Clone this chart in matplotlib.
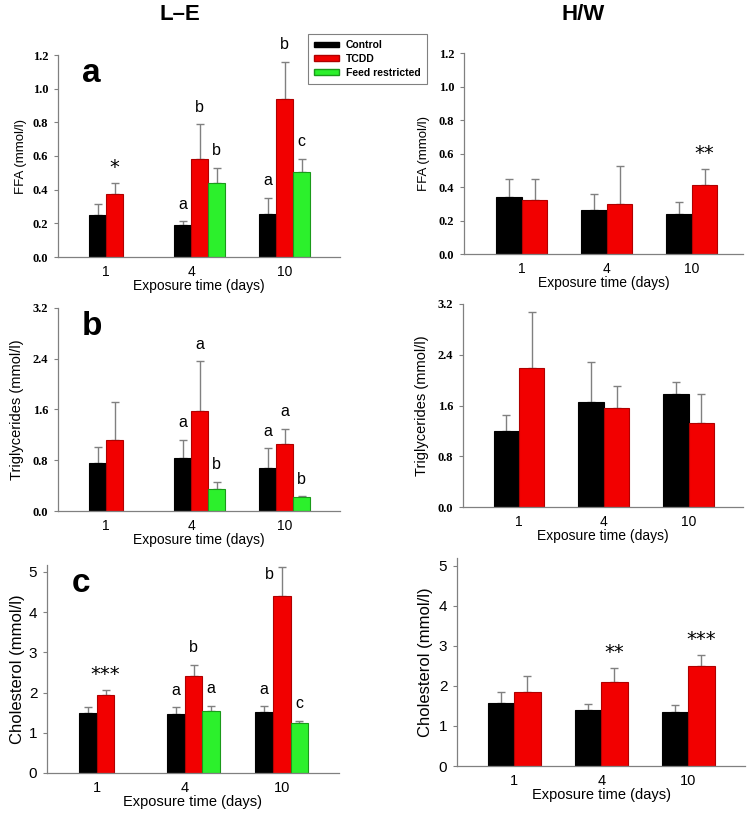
import numpy as np
import matplotlib
matplotlib.use('Agg')
import matplotlib.pyplot as plt
from matplotlib.patches import Patch

days = ['1', '4', '10']
series_names = ['Control', 'TCDD', 'Feed restricted']

# L-E rats (three groups), H/W rats (two groups); NaN = not measured
ffa_le_mean = [[0.248, 0.188, 0.258], [0.377, 0.581, 0.939], [np.nan, 0.437, 0.506]]
ffa_le_se = [[0.069, 0.024, 0.093], [0.063, 0.209, 0.220], [np.nan, 0.093, 0.079]]
ffa_hw_mean = [[0.340, 0.264, 0.238], [0.324, 0.300, 0.414]]
ffa_hw_se = [[0.108, 0.096, 0.072], [0.124, 0.224, 0.094]]

tg_le_mean = [[0.758, 0.832, 0.674], [1.126, 1.579, 1.053], [np.nan, 0.347, 0.221]]
tg_le_se = [[0.258, 0.289, 0.315], [0.590, 0.779, 0.242], [np.nan, 0.116, 0.011]]
tg_hw_mean = [[1.200, 1.663, 1.789], [2.184, 1.558, 1.326]]
tg_hw_se = [[0.247, 0.616, 0.174], [0.884, 0.347, 0.463]]

chol_le_mean = [[1.480, 1.465, 1.515], [1.950, 2.400, 4.396], [np.nan, 1.530, 1.250]]
chol_le_se = [[0.160, 0.175, 0.141], [0.120, 0.290, 0.734], [np.nan, 0.140, 0.050]]
chol_hw_mean = [[1.583, 1.408, 1.350], [1.858, 2.090, 2.483]]
chol_hw_se = [[0.275, 0.132, 0.160], [0.392, 0.350, 0.297]]

# significance marks: (series index, day index, text)
ffa_le_marks = [(1, 0, '*'), (0, 1, 'a'), (1, 1, 'b'), (2, 1, 'b'),
                (0, 2, 'a'), (1, 2, 'b'), (2, 2, 'c')]
ffa_hw_marks = [(1, 2, '**')]
tg_le_marks = [(0, 1, 'a'), (1, 1, 'a'), (2, 1, 'b'),
               (0, 2, 'a'), (1, 2, 'a'), (2, 2, 'b')]
tg_hw_marks = []
chol_le_marks = [(1, 0, '***'), (0, 1, 'a'), (1, 1, 'b'), (2, 1, 'a'),
                 (0, 2, 'a'), (1, 2, 'b'), (2, 2, 'c')]
chol_hw_marks = [(1, 1, '**'), (1, 2, '***')]

colors = ['#000000', '#f20000', '#2cf02c']
edges = ['#000000', '#b00000', '#1a9a1a']
W, H = 750, 814

fig = plt.figure(figsize=(W / 100, H / 100), dpi=100)


def px_axes(x0, x1, ytop, ybot):
    return fig.add_axes([x0 / W, 1 - ybot / H, (x1 - x0) / W, (ybot - ytop) / H])


def panel(ax, means, ses, marks, width, xlim, ylim, yticks, ylabels, ylabel,
          big, label_x, ticks_x, ylabel_size, special=None):
    x = np.arange(len(days))
    offs = [-width / 2, width / 2, 3 * width / 2]
    tops = {}
    for i, (m, s) in enumerate(zip(means, ses)):
        m = np.array(m, dtype=float)
        s = np.array(s, dtype=float)
        ax.bar(x + offs[i], m, width, color=colors[i], edgecolor=edges[i],
               linewidth=0.8, zorder=2)
        ax.errorbar(x + offs[i], m, yerr=[np.zeros_like(s), s], fmt='none',
                    ecolor='#808080', elinewidth=1, capsize=3, capthick=1, zorder=1)
        for j in range(len(days)):
            tops[(i, j)] = (x[j] + offs[i], m[j] + s[j])
    for i, j, t in marks:
        xx, yy = tops[(i, j)]
        dx, dy = (0, 9)
        if special and (i, j) in special:
            dx, dy = special[(i, j)]
        if '*' in t:
            ax.annotate(t, (xx, yy), xytext=(dx, dy - 2), textcoords='offset points',
                        ha='center', va='baseline', fontsize=14,
                        family='DejaVu Sans', annotation_clip=False)
        else:
            ax.annotate(t, (xx, yy), xytext=(dx, dy), textcoords='offset points',
                        ha='center', va='baseline', fontsize=11.5,
                        family='Liberation Sans', annotation_clip=False)
    ax.set_xlim(*xlim)
    ax.set_ylim(*ylim)
    ax.set_xticks(ticks_x)
    ax.set_xticklabels(days, fontsize=10.5 if big else 10, family='Liberation Sans')
    ax.set_yticks(yticks)
    if not big:
        ax.set_yticklabels(ylabels, fontsize=9, family='Liberation Serif',
                           fontweight='bold')
    else:
        ax.set_yticklabels(ylabels, fontsize=11, family='Liberation Sans')
    ax.tick_params(axis='y', length=3, width=0.8, color='#808080', pad=4)
    ax.tick_params(axis='x', length=0, pad=6)
    for sp in ['top', 'right']:
        ax.spines[sp].set_visible(False)
    for sp in ['left', 'bottom']:
        ax.spines[sp].set_color('#808080')
        ax.spines[sp].set_linewidth(0.9)
    ax.set_ylabel(ylabel, fontsize=ylabel_size, family='Liberation Sans')
    ax.set_xlabel('Exposure time (days)', fontsize=10.5 if big else 10,
                  family='Liberation Sans')
    bb = ax.get_position()
    wpx = bb.width * W
    hpx = bb.height * H
    ax.yaxis.set_label_coords(label_x / wpx, 0.5)
    ax.xaxis.set_label_coords(0.5, -22 / hpx)


ffa_ticks = [0, 0.2, 0.4, 0.6, 0.8, 1.0, 1.2]
ffa_lbl = ['%.1f' % v for v in ffa_ticks]
tg_ticks = [0, 0.8, 1.6, 2.4, 3.2]
tg_lbl = ['%.1f' % v for v in tg_ticks]
ch_ticks = [0, 1, 2, 3, 4, 5]
ch_lbl = [str(v) for v in ch_ticks]

le_ticks = [0, 1, 2.1]
hw_ticks = [0, 1, 2]

ax1 = px_axes(58, 340, 55, 257)
panel(ax1, ffa_le_mean, ffa_le_se, ffa_le_marks, 0.2, (-0.565, 2.75), (0, 1.2),
      ffa_ticks, ffa_lbl, 'FFA (mmol/l)', False, -31, le_ticks, 9.5)
ax2 = px_axes(464, 743, 53, 254)
panel(ax2, ffa_hw_mean, ffa_hw_se, ffa_hw_marks, 0.3, (-0.68, 2.6), (0, 1.2),
      ffa_ticks, ffa_lbl, 'FFA (mmol/l)', False, -34, hw_ticks, 9.5)
ax3 = px_axes(58, 340, 308, 511)
panel(ax3, tg_le_mean, tg_le_se, tg_le_marks, 0.2, (-0.565, 2.75), (0, 3.2),
      tg_ticks, tg_lbl, 'Triglycerides (mmol/l)', False, -34, le_ticks, 10.5)
ax4 = px_axes(463, 743, 304, 507)
panel(ax4, tg_hw_mean, tg_hw_se, tg_hw_marks, 0.3, (-0.66, 2.64), (0, 3.2),
      tg_ticks, tg_lbl, 'Triglycerides (mmol/l)', False, -34, hw_ticks, 10.5)
ax5 = px_axes(47, 339, 565, 773)
panel(ax5, chol_le_mean, chol_le_se, chol_le_marks, 0.2, (-0.565, 2.75), (0, 5.17),
      ch_ticks, ch_lbl, 'Cholesterol (mmol/l)', True, -22, le_ticks, 12,
      special={(1, 2): (-9, -9)})
ax6 = px_axes(457, 745, 558, 766)
panel(ax6, chol_hw_mean, chol_hw_se, chol_hw_marks, 0.3, (-0.66, 2.65), (0, 5.19),
      ch_ticks, ch_lbl, 'Cholesterol (mmol/l)', True, -24, hw_ticks, 12)

for ax, letter in [(ax1, 'a'), (ax3, 'b'), (ax5, 'c')]:
    ax.text(0.085, 0.985, letter, transform=ax.transAxes, fontsize=24,
            fontweight='bold', family='Liberation Sans', va='top', ha='left')

fig.text(180 / W, 1 - 14 / H, 'L\u2013E', fontsize=16, fontweight='bold',
         family='Liberation Sans', ha='center', va='center')
fig.text(583 / W, 1 - 14 / H, 'H/W', fontsize=16, fontweight='bold',
         family='Liberation Sans', ha='center', va='center')

handles = [Patch(facecolor=colors[i], edgecolor=edges[i], label=series_names[i])
           for i in range(3)]
leg = fig.legend(handles=handles, loc='upper left',
                 bbox_to_anchor=(308 / W, 1 - 34 / H), fancybox=False,
                 edgecolor='#808080', framealpha=1, borderaxespad=0,
                 handlelength=2.4, handleheight=0.45, handletextpad=0.6,
                 labelspacing=0.35, borderpad=0.6,
                 prop={'family': 'Liberation Sans', 'weight': 'bold', 'size': 7.5})
leg.get_frame().set_linewidth(0.8)

fig.savefig('out.png', dpi=100)
